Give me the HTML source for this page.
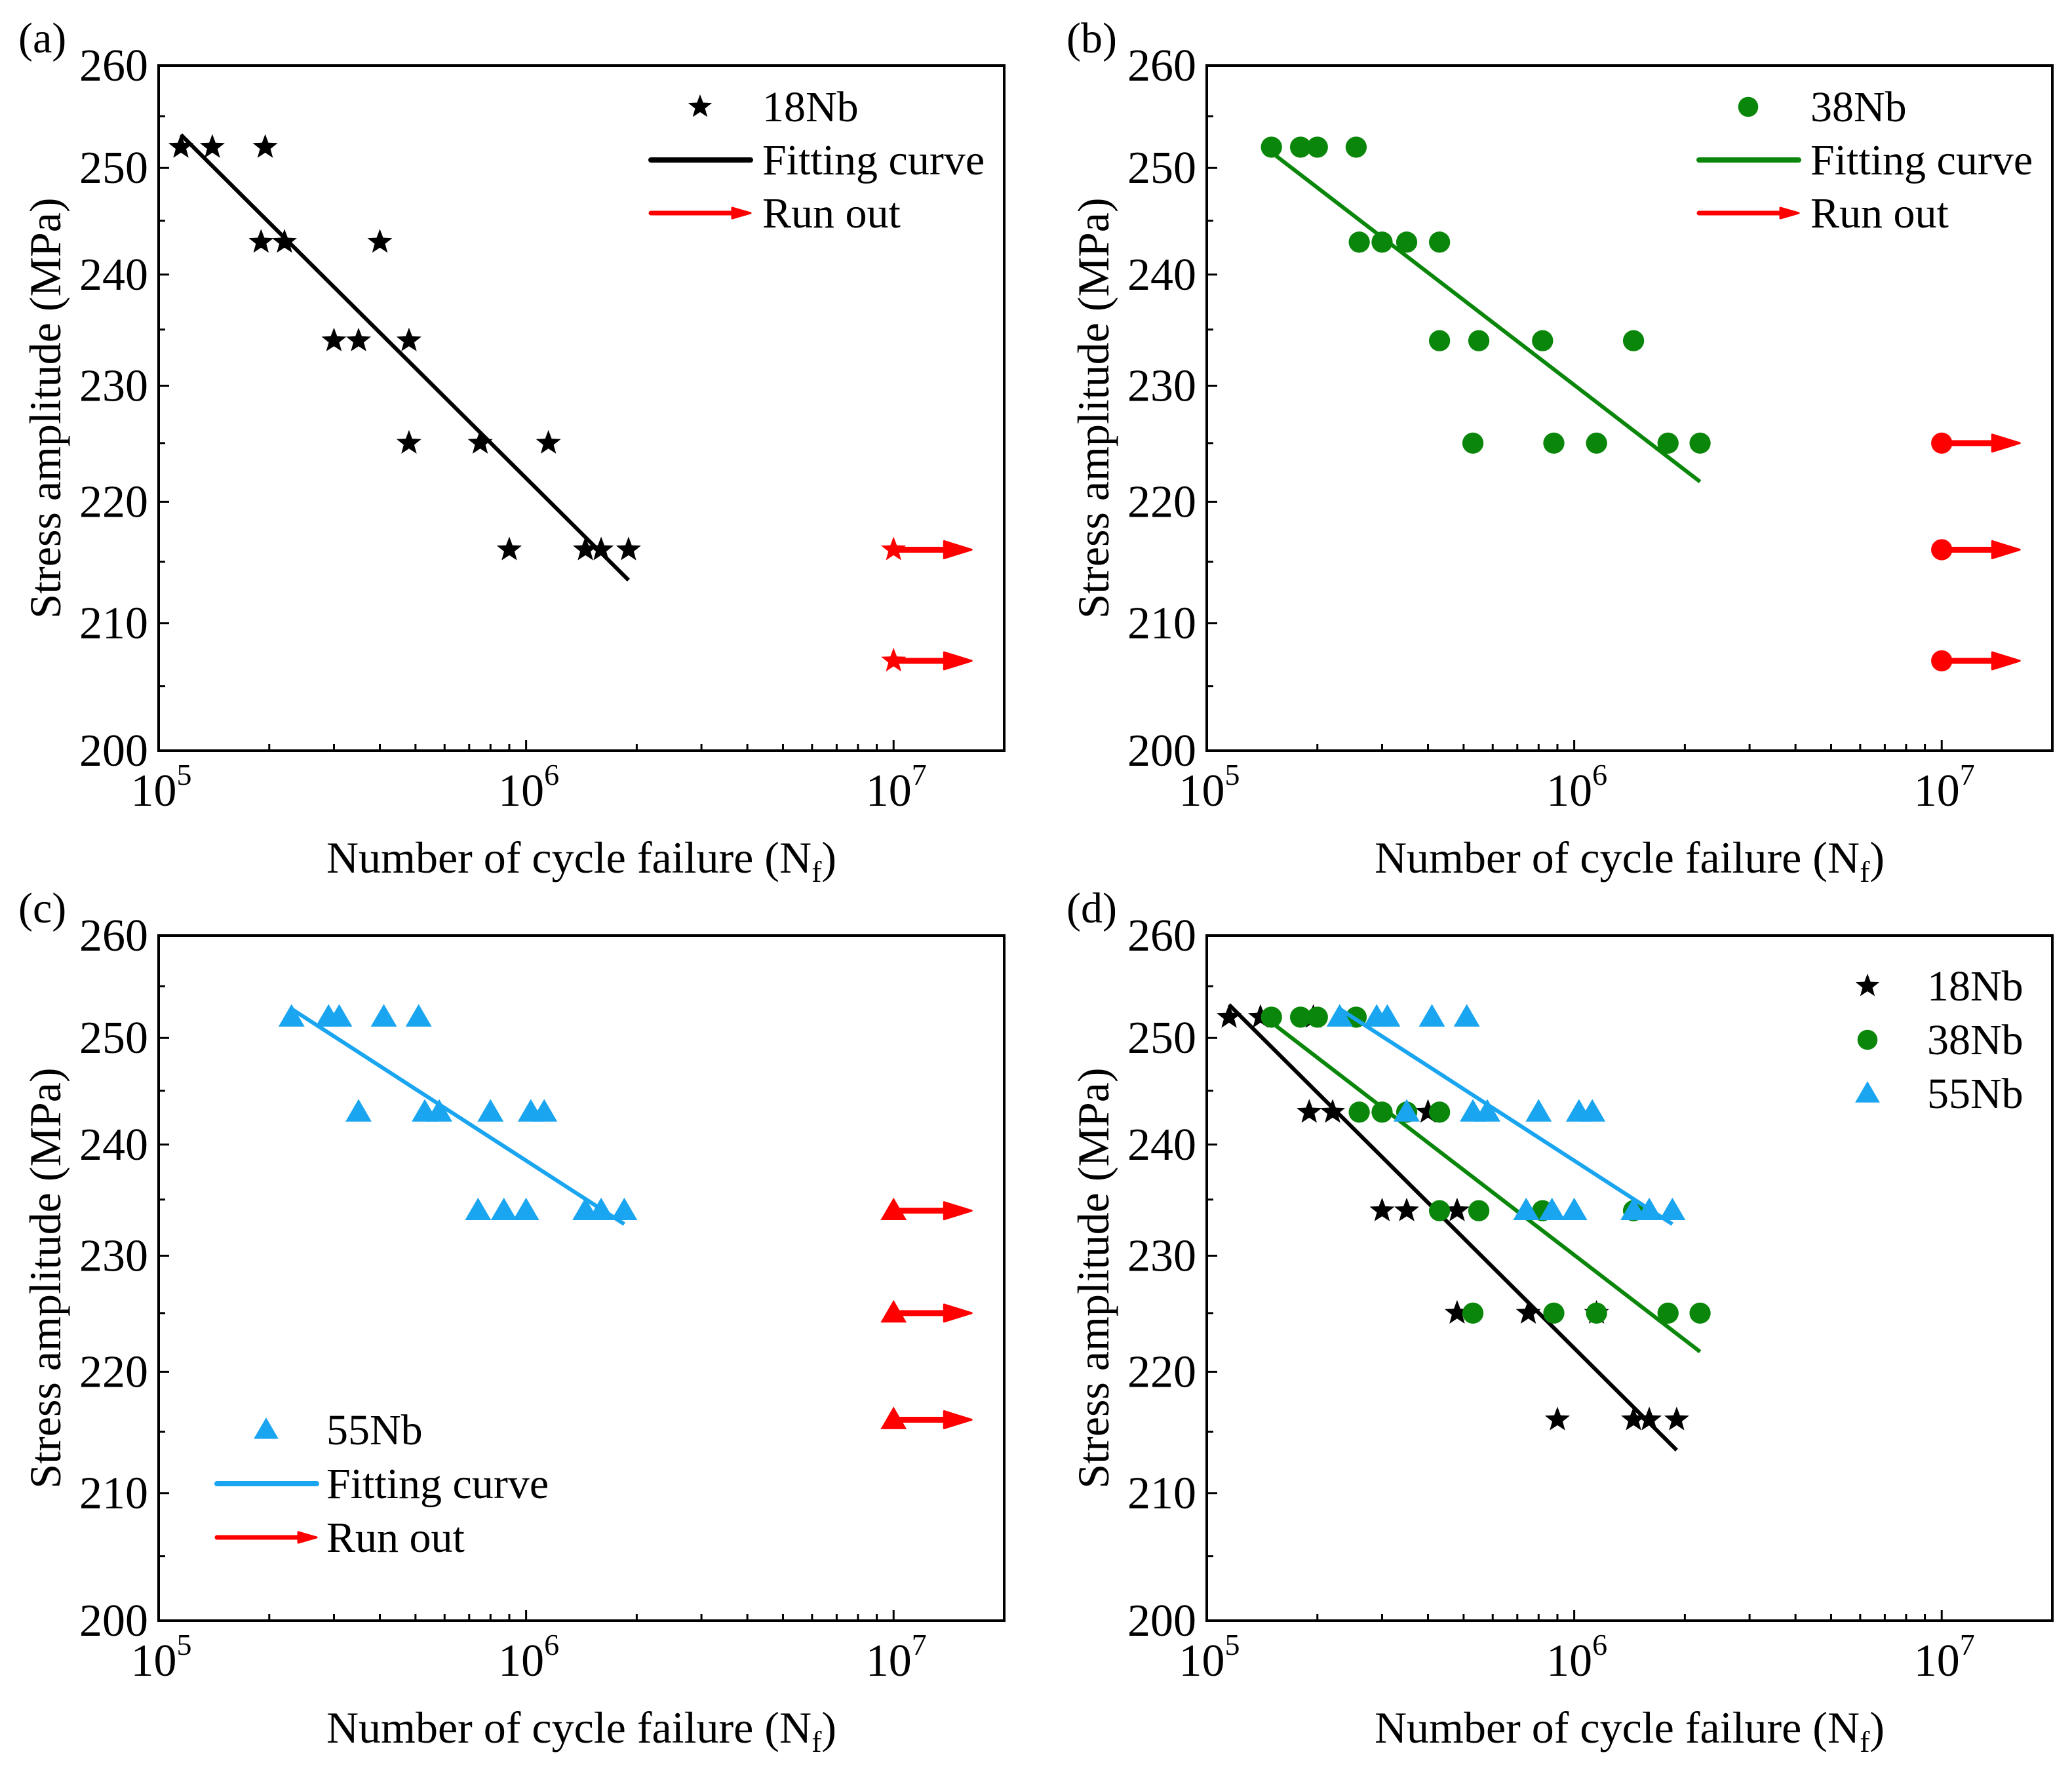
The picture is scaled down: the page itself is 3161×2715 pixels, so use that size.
<!DOCTYPE html>
<html><head><meta charset="utf-8">
<style>
html,body{margin:0;padding:0;background:#fff;}
svg, svg text{font-family:"Liberation Serif","Times New Roman",Times,"DejaVu Serif",serif;}
</style></head>
<body>
<svg id="fig" width="3161" height="2710" viewBox="0 0 3161 2710" xmlns="http://www.w3.org/2000/svg" font-family="Liberation Serif, Times New Roman, serif"></svg>
<script>
// ---- data ----
const xTickExps = [5, 6, 7];
const yTickLabels = [200, 210, 220, 230, 240, 250, 260];
const n18 = [1.15e5,1.4e5,1.95e5,1.9e5,2.2e5,4.0e5,3.0e5,3.5e5,4.8e5,4.8e5,7.5e5,1.15e6,9.0e5,1.45e6,1.6e6,1.9e6];
const s18 = [252,252,252,243,243,243,234,234,234,225,225,225,216,216,216,216];
const n38 = [1.5e5,1.8e5,2.0e5,2.55e5,2.6e5,3.0e5,3.5e5,4.3e5,4.3e5,5.5e5,8.2e5,1.45e6,5.3e5,8.8e5,1.15e6,1.8e6,2.2e6];
const s38 = [252,252,252,252,243,243,243,243,234,234,234,234,225,225,225,225,225];
const n55 = [2.3e5,2.9e5,3.1e5,4.1e5,5.1e5,3.5e5,5.3e5,5.8e5,8.0e5,1.03e6,1.12e6,7.4e5,8.7e5,1.0e6,1.45e6,1.6e6,1.85e6];
const s55 = [252,252,252,252,252,243,243,243,243,243,243,234,234,234,234,234,234];
const fit18N = [1.15e5, 1.9e6], fit18S = [253.2, 213.5];
const fit38N = [1.5e5, 2.2e6],  fit38S = [251.5, 221.7];
const fit55N = [2.3e5, 1.85e6], fit55S = [252.8, 232.8];
const runN = 1e7;
const run18 = [216, 207];
const run38 = [225, 216, 207];
const run55 = [234, 225, 216];

const NS = 'http://www.w3.org/2000/svg';
const svg = document.getElementById('fig');
const BLACK='#000', GREEN='#0a870a', BLUE='#1aa5f0', RED='#ff0000';
const W=1290, H=1045, XMIN=1e5, XMAX=2e7, YMIN=200, YMAX=260;
const FONT='"Liberation Serif","Times New Roman",Times,serif';

function el(tag, attrs, parent){
  const e=document.createElementNS(NS,tag);
  for(const k in attrs) e.setAttribute(k,attrs[k]);
  if(tag==='text') e.style.fontFamily=FONT;
  (parent||svg).appendChild(e); return e;
}
function mkX(ox){return n=> ox + Math.log10(n/XMIN)/Math.log10(XMAX/XMIN)*W;}
function mkY(oy){return s=> oy + Math.log10(YMAX/s)/Math.log10(YMAX/YMIN)*H;}

function starPath(cx,cy,r){
  let d='';
  for(let i=0;i<10;i++){
    const rr = i%2===0 ? r : r*0.42;
    const a = -Math.PI/2 + i*Math.PI/5;
    d += (i?'L':'M')+(cx+rr*Math.cos(a)).toFixed(1)+','+(cy+rr*Math.sin(a)).toFixed(1);
  }
  return d+'Z';
}
function marker(g,type,cx,cy,color,size){
  let m;
  if(type==='star'){ m=el('path',{d:starPath(cx,cy,size),fill:color},g); }
  else if(type==='circle'){ m=el('circle',{cx:cx,cy:cy,r:size*0.85,fill:color},g); }
  else { const s=size*1.05; m=el('path',{d:`M${cx},${cy-s}L${cx+s},${cy+s*0.72}L${cx-s},${cy+s*0.72}Z`,fill:color},g); }
  return m;
}
function arrow(g,x1,x2,y,w,hl,hw){
  const line=el('line',{x1:x1,y1:y,x2:x2-hl+2,y2:y,stroke:RED,'stroke-width':w,'stroke-linecap':'round'},g);
  const head=el('path',{d:`M${x2-hl},${y-hw}L${x2},${y}L${x2-hl},${y+hw}Z`,fill:RED,stroke:RED,'stroke-width':3,'stroke-linejoin':'round'},g);
  return [line,head];
}

function panel(cfg){
  const ox=cfg.ox, oy=cfg.oy, X=mkX(ox), Y=mkY(oy);
  const g=el('g',{});
  
  
  const lt=el('text',{x:ox-214,y:oy-20,'font-size':66},g); lt.textContent=cfg.letter;
  
  
  const fr=el('rect',{x:ox,y:oy,width:W,height:H,fill:'none',stroke:'#000','stroke-width':4},g);
  
  
  for(let v=200; v<=260; v+=5){
    const y=Y(v), major=(v%10===0);
    el('line',{x1:ox,y1:y,x2:ox+(major?16:10),y2:y,stroke:'#000','stroke-width':3},g);
  }
  yTickLabels.forEach(v=>{
    const t=el('text',{x:ox-16,y:Y(v)+23,'font-size':70,'text-anchor':'end'},g);
    t.textContent=v;
    
    
  });
  for(let e=5;e<=7;e++){
    for(let k=1;k<=9;k++){
      const n=k*Math.pow(10,e); if(n>XMAX) break;
      const x=X(n);
      el('line',{x1:x,y1:oy+H,x2:x,y2:oy+H-(k===1?16:10),stroke:'#000','stroke-width':3},g);
    }
  }
  xTickExps.forEach(e=>{
    const x=X(Math.pow(10,e));
    const t=el('text',{x:x+4,y:oy+H+84,'font-size':70,'text-anchor':'middle'},g);
    
    
    const a=el('tspan',{},t); a.textContent='10';
    const b=el('tspan',{dy:-32,'font-size':46},t); b.textContent=String(e);
  });
  const xt=el('text',{x:ox+W/2,y:oy+H+186,'font-size':68,'text-anchor':'middle'},g);
  
  
  const t1=el('tspan',{},xt); t1.textContent='Number of cycle failure (N';
  const t2=el('tspan',{'font-size':46,dy:14},xt); t2.textContent='f';
  const t3=el('tspan',{dy:-14},xt); t3.textContent=')';
  const yt=el('text',{x:0,y:0,'font-size':68,'text-anchor':'middle',transform:`translate(${ox-150},${oy+H/2}) rotate(-90)`},g);
  yt.textContent='Stress amplitude (MPa)';
  
  
  cfg.series.forEach(s=>{
    const sg=el('g',{},g);
    
    
    s.n.forEach((n,i)=>{
      const m=marker(sg,s.type,X(n),Y(s.s[i]),s.color,s.type==='star'?20:19);
      
      
    });
    if(s.fitN){
      const l=el('line',{x1:X(s.fitN[0]),y1:Y(s.fitS[0]),x2:X(s.fitN[1]),y2:Y(s.fitS[1]),stroke:s.color,'stroke-width':6},sg);
      
      
    }
    if(s.run){
      s.run.forEach(v=>{
        const x=X(runN), y=Y(v);
        const ag=el('g',{},sg);
        
        
        arrow(ag,x,X(runN)+119,y,9,42,13);
        marker(ag,s.type,x,y,RED,s.type==='star'?20:19);
      });
    }
  });
  const lg=el('g',{},g);
  
  
  cfg.legend.items.forEach((it,i)=>{
    const ly=cfg.legend.y+i*cfg.legend.dy, lx=cfg.legend.x;
    const eg=el('g',{},lg);
    
    
    if(it.kind==='marker') marker(eg,it.type,lx+75,ly,it.color,it.type==='star'?19:18);
    else if(it.kind==='line') el('line',{x1:lx,y1:ly,x2:lx+152,y2:ly,stroke:it.color,'stroke-width':8,'stroke-linecap':'round'},eg);
    else arrow(eg,lx,lx+152,ly,7,28,8);
    const t=el('text',{x:lx+cfg.legend.tx,y:ly+22,'font-size':66},eg);
    t.textContent=it.label;
  });
}

const s18cfg={name:'series-18nb',type:'star',color:BLACK,n:n18,s:s18,fitN:fit18N,fitS:fit18S};
const s38cfg={name:'series-38nb',type:'circle',color:GREEN,n:n38,s:s38,fitN:fit38N,fitS:fit38S};
const s55cfg={name:'series-55nb',type:'tri',color:BLUE,n:n55,s:s55,fitN:fit55N,fitS:fit55S};

panel({name:'panel-a',letter:'(a)',ox:242,oy:100,
  series:[Object.assign({},s18cfg,{run:run18})],
  legend:{x:993,y:163,dy:81,tx:170,items:[
    {kind:'marker',type:'star',color:BLACK,label:'18Nb'},
    {kind:'line',color:BLACK,label:'Fitting curve'},
    {kind:'arrow',label:'Run out'}]}});
panel({name:'panel-b',letter:'(b)',ox:1841,oy:100,
  series:[Object.assign({},s38cfg,{run:run38})],
  legend:{x:2592,y:163,dy:81,tx:170,items:[
    {kind:'marker',type:'circle',color:GREEN,label:'38Nb'},
    {kind:'line',color:GREEN,label:'Fitting curve'},
    {kind:'arrow',label:'Run out'}]}});
panel({name:'panel-c',letter:'(c)',ox:242,oy:1427,
  series:[Object.assign({},s55cfg,{run:run55})],
  legend:{x:331,y:2181,dy:82,tx:167,items:[
    {kind:'marker',type:'tri',color:BLUE,label:'55Nb'},
    {kind:'line',color:BLUE,label:'Fitting curve'},
    {kind:'arrow',label:'Run out'}]}});
panel({name:'panel-d',letter:'(d)',ox:1841,oy:1427,
  series:[s18cfg,s38cfg,s55cfg],
  legend:{x:2774,y:1504,dy:82,tx:166,items:[
    {kind:'marker',type:'star',color:BLACK,label:'18Nb'},
    {kind:'marker',type:'circle',color:GREEN,label:'38Nb'},
    {kind:'marker',type:'tri',color:BLUE,label:'55Nb'}]}});
</script>
</body></html>
